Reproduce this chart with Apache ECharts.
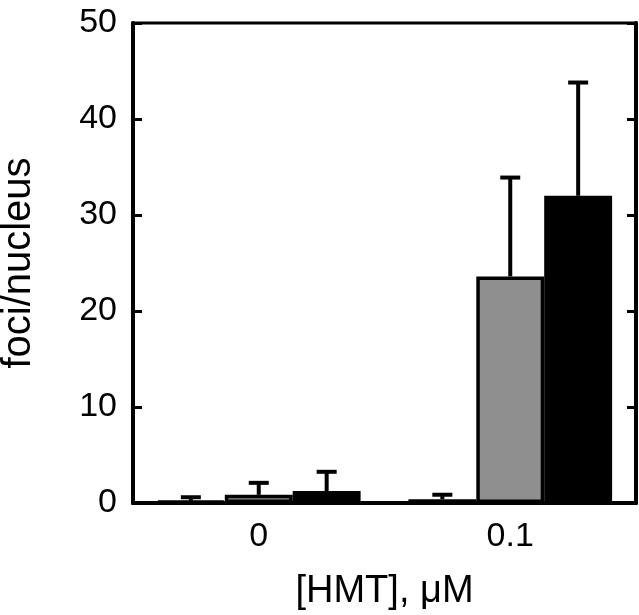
<!DOCTYPE html>
<html>
<head>
<meta charset="utf-8">
<script src="https://cdn.jsdelivr.net/npm/echarts@6/dist/echarts.min.js"></script>
<style>html,body{margin:0;padding:0;background:#fff;}#c{width:639px;height:615px;}</style>
</head>
<body>
<div id="c"></div>
<script>
var categories = ['0', '0.1'];
var whiteMean = [0.2, 0.4];
var whiteUpper = [0.6, 0.86];
var greyMean = [0.85, 23.6];
var greyUpper = [2.1, 33.9];
var blackMean = [1.25, 32.0];
var blackUpper = [3.25, 43.8];
var yTicks = [0, 10, 20, 30, 40, 50];

var FONT = 'Liberation Sans';
var BAR_FRAC = 0.27;

function errData(mean, upper) {
  return categories.map(function (c, i) { return [i, mean[i], upper[i]]; });
}
function errSeries(mean, upper, slot) {
  return {
    type: 'custom',
    z: 5,
    data: errData(mean, upper),
    renderItem: function (params, api) {
      var band = api.size([1, 0])[0];
      var bw = band * BAR_FRAC;
      var base = api.coord([api.value(0), api.value(1)]);
      var top = api.coord([api.value(0), api.value(2)]);
      var x = base[0] + slot * bw;
      var style = { stroke: '#000', lineWidth: 4 };
      return {
        type: 'group',
        children: [
          { type: 'line', shape: { x1: x, y1: base[1], x2: x, y2: top[1] }, style: style },
          { type: 'line', shape: { x1: x - 10, y1: top[1], x2: x + 10, y2: top[1] }, style: style }
        ]
      };
    }
  };
}
var barCommon = { type: 'bar', barWidth: (BAR_FRAC * 100) + '%', barGap: '0%' };

var chart = echarts.init(document.getElementById('c'));
chart.setOption({
  animation: false,
  backgroundColor: '#fff',
  grid: { left: 133, right: 3, top: 23, bottom: 112, outerBoundsMode: 'none', containLabel: false, show: true, borderColor: '#000', borderWidth: 3, backgroundColor: 'transparent' },
  xAxis: {
    type: 'category',
    data: categories,
    name: '[HMT], \u03bcM',
    nameLocation: 'middle',
    nameGap: 70,
    nameTextStyle: { fontFamily: FONT, fontSize: 38, color: '#000' },
    axisLine: { lineStyle: { color: '#000', width: 4 } },
    axisTick: { show: false },
    axisLabel: { fontFamily: FONT, fontSize: 34, color: '#000', margin: 17 }
  },
  yAxis: [{
    type: 'value',
    min: yTicks[0], max: yTicks[yTicks.length - 1], interval: 10,
    name: 'foci/nucleus',
    nameLocation: 'middle',
    nameRotate: 90,
    nameGap: 94,
    nameTextStyle: { fontFamily: FONT, fontSize: 40, color: '#000' },
    axisLine: { show: true, lineStyle: { color: '#000', width: 4 } },
    axisTick: { show: true, inside: true, length: 9, lineStyle: { color: '#000', width: 3 } },
    axisLabel: { fontFamily: FONT, fontSize: 34, color: '#000', margin: 16 },
    splitLine: { show: false }
  }, {
    type: 'value', position: 'right',
    min: yTicks[0], max: yTicks[yTicks.length - 1], interval: 10,
    axisLine: { show: true, lineStyle: { color: '#000', width: 4 } },
    axisTick: { show: true, inside: true, length: 9, lineStyle: { color: '#000', width: 3 } },
    axisLabel: { show: false },
    splitLine: { show: false }
  }],
  series: [
    Object.assign({}, barCommon, { data: whiteMean, itemStyle: { color: '#fff', borderColor: '#000', borderWidth: 3.5 } }),
    Object.assign({}, barCommon, { data: greyMean, itemStyle: { color: '#8f8f8f', borderColor: '#000', borderWidth: 3.5 } }),
    Object.assign({}, barCommon, { data: blackMean, itemStyle: { color: '#000', borderColor: '#000', borderWidth: 3.5 } }),
    errSeries(whiteMean, whiteUpper, -1),
    errSeries(greyMean, greyUpper, 0),
    errSeries(blackMean, blackUpper, 1)
  ]
});
</script>
</body>
</html>
